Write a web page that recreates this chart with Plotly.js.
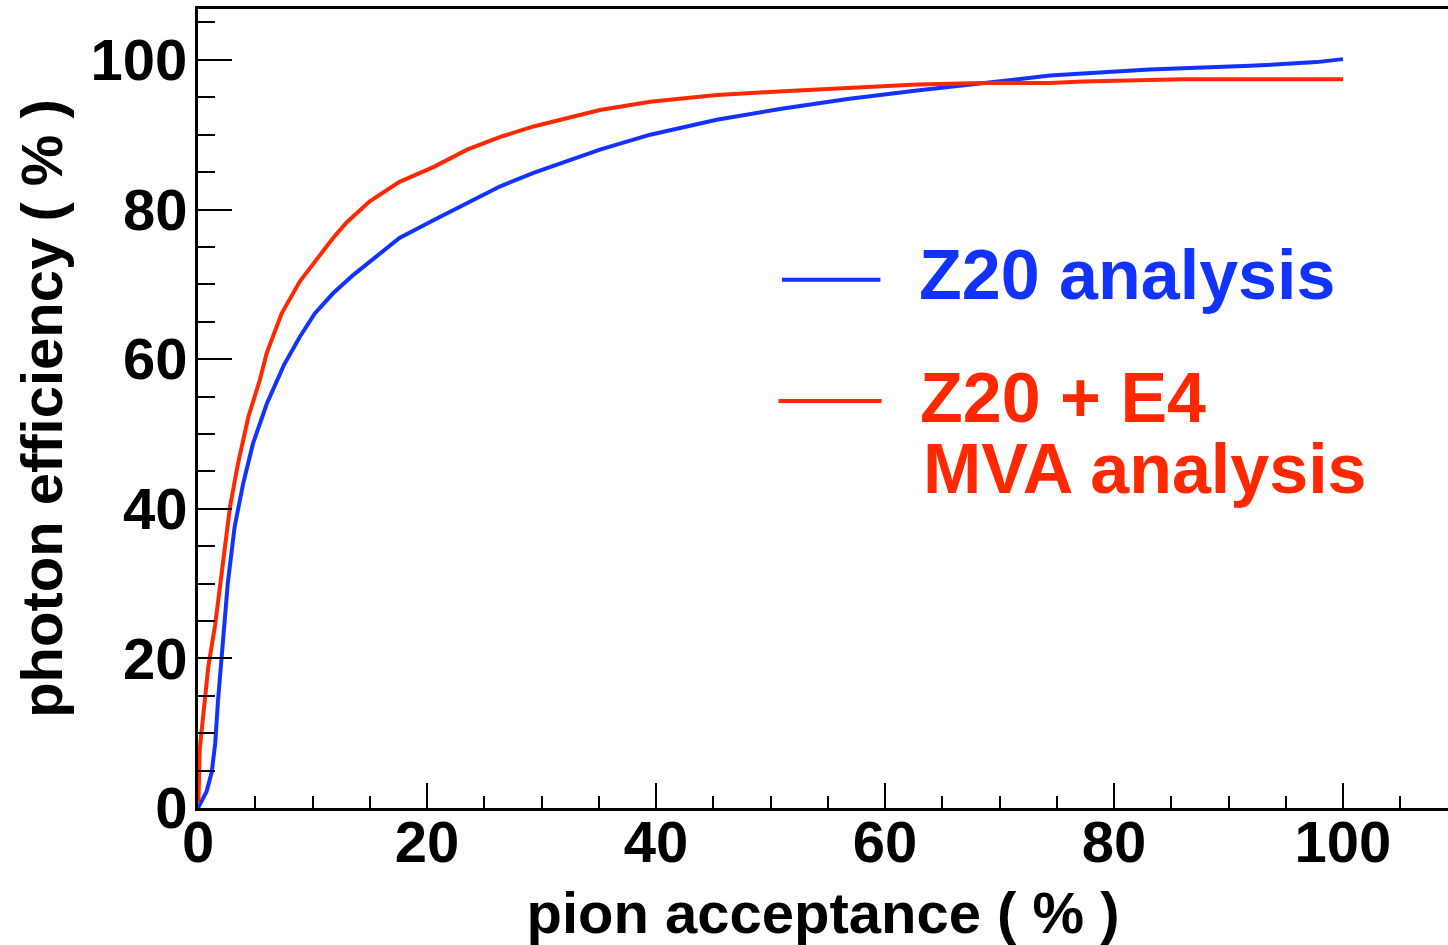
<!DOCTYPE html>
<html>
<head>
<meta charset="utf-8">
<script src="https://cdn.plot.ly/plotly-3.0.1.min.js"></script>
<style>html,body{margin:0;padding:0;background:#fff;}</style>
</head>
<body>
<div id="chart" style="width:1448px;height:945px;"></div>
<script>
// Z20 analysis (blue)
const z20X = [0, 0.3, 0.75, 1.2, 1.5, 1.75, 2.05, 2.35, 2.6, 3.2, 3.95, 4.8, 6.0, 7.5, 8.9, 10.2, 11.8, 13.6, 15.6, 17.6, 20.6, 23.4, 26.4, 29.3, 32.2, 35.1, 39.5, 45.3, 51.1, 56.9, 62.8, 65.7, 68.6, 74.4, 83.1, 91.9, 97.7, 100];
const z20Y = [0, 0.8, 2.2, 4.8, 8.6, 14.4, 20.5, 25.5, 30.0, 37.6, 43.4, 48.7, 54.0, 59.2, 63.0, 66.1, 68.8, 71.3, 73.7, 76.2, 78.6, 80.8, 83.1, 84.9, 86.5, 88.0, 90.0, 92.0, 93.5, 94.8, 95.9, 96.4, 96.9, 97.9, 98.7, 99.2, 99.7, 100.1];
// Z20 + E4 MVA analysis (red)
const mvaX = [0, 0.05, 0.15, 0.45, 0.9, 1.5, 2.2, 2.8, 3.5, 4.4, 5.4, 6.0, 7.3, 8.2, 8.9, 10.4, 11.8, 13.0, 15.0, 17.6, 20.6, 23.5, 26.4, 29.3, 32.2, 35.1, 39.5, 45.3, 51.1, 56.9, 62.8, 68.6, 74.4, 77.3, 86.0, 100];
const mvaY = [0.8, 1.5, 7.8, 12.2, 18.9, 24.5, 33.6, 40.3, 46.1, 52.3, 57.2, 60.8, 66.1, 68.6, 70.4, 73.4, 76.2, 78.3, 81.1, 83.7, 85.7, 88.0, 89.7, 91.1, 92.2, 93.3, 94.4, 95.3, 95.8, 96.3, 96.7, 96.9, 96.9, 97.1, 97.4, 97.4];

const seriesNames = ['Z20 analysis', 'Z20 + E4', 'MVA analysis'];
const xTitle = 'pion acceptance ( % )';
const yTitle = 'photon efficiency ( % )';

const BLUE = '#1232ff';
const RED = '#ff2800';
const FONT = 'Liberation Sans, Arial, Helvetica, sans-serif';

const traces = [
  {x: z20X, y: z20Y, type: 'scatter', mode: 'lines', line: {color: BLUE, width: 4}, showlegend: false, name: 'Z20 analysis'},
  {x: mvaX, y: mvaY, type: 'scatter', mode: 'lines', line: {color: RED, width: 4}, showlegend: false, name: 'Z20 + E4 MVA analysis'}
];

const tickFont = {family: FONT, size: 58, color: '#000', weight: 'bold'};
const titleFont = {family: FONT, size: 58, color: '#000', weight: 'bold'};

const axisCommon = {
  showgrid: false, zeroline: false, showline: true, linecolor: '#000', linewidth: 3,
  ticks: 'inside', tickcolor: '#000', tickwidth: 2, tickfont: tickFont
};

const layout = {
  width: 1448, height: 945,
  margin: {l: 198, r: 0, t: 9, b: 137},
  paper_bgcolor: '#fff', plot_bgcolor: '#fff',
  xaxis: Object.assign({}, axisCommon, {
    range: [0, 109.17], dtick: 20, tick0: 0, ticklen: 25, mirror: true,
    ticklabelstandoff: -19,
    minor: {dtick: 5, ticks: 'inside', ticklen: 12, tickwidth: 2, tickcolor: '#000'},
    title: {text: xTitle, standoff: 22, font: titleFont}
  }),
  yaxis: Object.assign({}, axisCommon, {
    range: [0, 106.8], dtick: 20, tick0: 0, ticklen: 34,
    ticklabelstandoff: -4,
    minor: {dtick: 5, ticks: 'inside', ticklen: 17, tickwidth: 2, tickcolor: '#000'},
    title: {text: yTitle, standoff: 10, font: titleFont}
  }),
  shapes: [
    {type: 'line', xref: 'x', yref: 'y', x0: 51.0, x1: 59.6, y0: 70.6, y1: 70.6, line: {color: BLUE, width: 4}},
    {type: 'line', xref: 'x', yref: 'y', x0: 50.7, x1: 59.7, y0: 54.4, y1: 54.4, line: {color: RED, width: 4}}
  ],
  annotations: [
    {x: 62.8, y: 71.2, xref: 'x', yref: 'y', xanchor: 'left', yanchor: 'middle', showarrow: false,
     text: seriesNames[0], font: {family: FONT, size: 70, color: BLUE, weight: 'bold'}},
    {x: 62.9, y: 54.8, xref: 'x', yref: 'y', xanchor: 'left', yanchor: 'middle', showarrow: false,
     text: seriesNames[1], font: {family: FONT, size: 70, color: RED, weight: 'bold'}},
    {x: 63.1, y: 45.3, xref: 'x', yref: 'y', xanchor: 'left', yanchor: 'middle', showarrow: false,
     text: seriesNames[2], font: {family: FONT, size: 70, color: RED, weight: 'bold'}}
  ]
};

Plotly.newPlot('chart', traces, layout, {displayModeBar: false, staticPlot: true});
</script>
</body>
</html>
